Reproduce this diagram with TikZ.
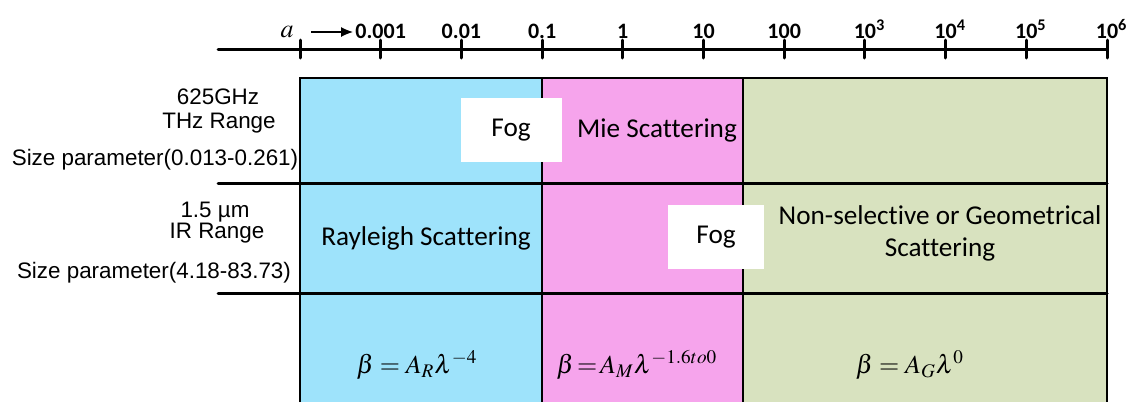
\documentclass[tikz,border=0pt]{standalone}
\usepackage{mathptmx}
\usepackage[no-math]{fontspec}
\usepackage{tikz}
\usetikzlibrary{arrows.meta}
\newfontfamily\calfont[Ligatures=NoCommon]{Carlito}
\newfontfamily\arialfont{Liberation Sans}
\definecolor{rayblue}{RGB}{158,227,251}
\definecolor{miepink}{RGB}{246,164,236}
\definecolor{geogreen}{RGB}{216,226,191}

\begin{document}
\begin{tikzpicture}[
    x=0.5pt, y=-0.5pt,
    axlabel/.style={font=\calfont\bfseries\fontsize{11}{12}\selectfont, anchor=base, inner sep=0pt},
    sidelabel/.style={font=\arialfont\fontsize{11.2}{13}\selectfont, inner sep=0pt},
    region/.style={font=\calfont\fontsize{13.6}{16}\selectfont, align=center, inner sep=0pt},
    fogbox/.style={fill=white, inner sep=0pt, minimum height=32pt, font=\calfont\fontsize{13.6}{16}\selectfont},
    formula/.style={font=\fontsize{13}{15}\selectfont, inner sep=0pt},
    thickrule/.style={line width=1.5pt, line cap=round},
    cellline/.style={line width=0.6pt},
    arrow/.style={-{Latex[length=6pt,width=5pt]}, line width=0.6pt},
]
\useasboundingbox (0,0) rectangle (1127,402);

% scattering regions
\fill[rayblue]  (300,78) rectangle (542,402);
\fill[miepink]  (542,78) rectangle (743,402);
\fill[geogreen] (743,78) rectangle (1107,402);
\draw[cellline] (300,402) -- (300,78) -- (1107,78) -- (1107,402);
\draw[cellline] (542,78) -- (542,402);
\draw[cellline] (743,78) -- (743,402);

% size axis
\draw[thickrule] (218,49) -- (1107,49);
\foreach \i in {0,...,10}
    \draw[thickrule] (300+80.7*\i,40) -- (300+80.7*\i,58);
\foreach \lbl [count=\i] in {0.001,0.01,0.1,1,10,100,
        10\rlap{\textsuperscript{3}},10\rlap{\textsuperscript{4}},
        10\rlap{\textsuperscript{5}},10\rlap{\textsuperscript{6}}}
    \node[axlabel] (lab\i) at (300+80.7*\i,38) {\lbl};
\node[formula] (asize) at (287,32) {$a$};
\coordinate (arrS) at (311,32);
\coordinate (arrE) at (353,32);
\draw[arrow] (arrS) -- (arrE);

% band separators
\draw[thickrule] (218,183) -- (1107,183);
\draw[thickrule] (218,293) -- (1107,293);

\node[sidelabel] (thz)   at (218,97)  {625GHz};
\node[sidelabel] (thzr)  at (219,123) {THz Range};
\node[sidelabel] (thzs)  at (155,160) {Size parameter(0.013-0.261)};
\node[sidelabel] (ir)    at (215,212) {1.5 µm};
\node[sidelabel] (irr)   at (217,233) {IR Range};
\node[sidelabel] (irs)   at (154,273) {Size parameter(4.18-83.73)};

\node[fogbox, minimum width=50.5pt] (fog1) at (511,130) {Fog};
\node[fogbox, minimum width=48pt]   (fog2) at (716,237) {Fog};
\node[region] (mie) at (657,130) {Mie Scattering};
\node[region] (ray) at (426,238) {Rayleigh Scattering};
\node[region] (geo) at (940,233) {Non-selective or Geometrical\\Scattering};

\node[formula] (fray) at (417,365) {$\beta = A_R\lambda^{-4}$};
\node[formula] (fmie) at (637,365) {$\beta\!=\!A_M\lambda^{-1.6to0}$};
\node[formula] (fgeo) at (910,365) {$\beta = A_G\lambda^{0}$};
\end{tikzpicture}
\end{document}
